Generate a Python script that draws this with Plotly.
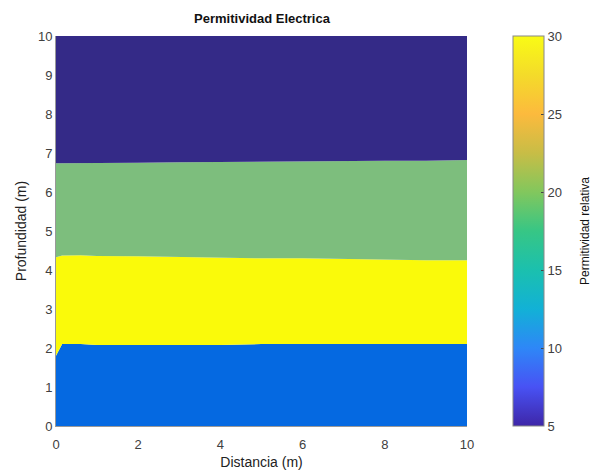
import plotly.graph_objects as go

# ---- data ----
distancia = [0, 0.15, 0.6, 1, 2, 3, 4, 5, 6, 7, 8, 9, 10]
# interface depths (m)
iface_azul_amarillo = [1.8, 2.1, 2.1, 2.08, 2.08, 2.08, 2.08, 2.1, 2.1, 2.1, 2.1, 2.1, 2.1]
iface_amarillo_verde = [4.33, 4.37, 4.38, 4.36, 4.35, 4.33, 4.32, 4.30, 4.30, 4.28, 4.27, 4.25, 4.25]
iface_verde_oscuro = [6.74, 6.74, 6.75, 6.75, 6.75, 6.76, 6.77, 6.78, 6.78, 6.79, 6.80, 6.80, 6.82]
prof_min = 0
prof_max = 10
cb_min, cb_max = 5, 30
cb_ticks = [5, 10, 15, 20, 25, 30]

parula = [
    [0.0, "rgb(62,38,168)"], [0.1, "rgb(72,82,244)"], [0.2, "rgb(46,135,247)"],
    [0.3, "rgb(18,177,214)"], [0.4, "rgb(27,192,174)"], [0.5, "rgb(55,198,133)"],
    [0.6, "rgb(130,199,93)"], [0.7, "rgb(200,189,70)"], [0.8, "rgb(252,186,61)"],
    [0.9, "rgb(244,219,42)"], [1.0, "rgb(249,251,21)"],
]

fig = go.Figure()
base = [prof_min] * len(distancia)
top = [prof_max] * len(distancia)
layers = [
    (base, iface_azul_amarillo, "rgb(5,105,225)"),
    (iface_azul_amarillo, iface_amarillo_verde, "rgb(250,250,10)"),
    (iface_amarillo_verde, iface_verde_oscuro, "rgb(125,190,125)"),
    (iface_verde_oscuro, top, "rgb(52,42,135)"),
]
for lo, hi, col in layers:
    fig.add_trace(go.Scatter(x=distancia, y=lo, mode="lines", line=dict(width=0),
                             showlegend=False, hoverinfo="skip"))
    fig.add_trace(go.Scatter(x=distancia, y=hi, mode="lines", line=dict(width=0, color=col),
                             fill="tonexty", fillcolor=col, showlegend=False, hoverinfo="skip"))

# colorbar trace
fig.add_trace(go.Scatter(
    x=[None, None], y=[None, None], mode="markers", showlegend=False,
    marker=dict(color=[cb_min, cb_max], cmin=cb_min, cmax=cb_max, colorscale=parula,
                showscale=True,
                colorbar=dict(x=1.112, xanchor="left", xref="paper", y=0.5, yanchor="middle",
                              len=1.0, lenmode="fraction", thickness=31, thicknessmode="pixels",
                              ypad=0, xpad=0,
                              outlinecolor="#888", outlinewidth=1,
                              tickvals=cb_ticks, ticks="inside", ticklen=3, tickcolor="#444",
                              tickfont=dict(family="Liberation Sans, Arial", size=13, color="#404040"))),
))

W, H = 592, 471
pl, pw = 56, 411
fig.add_annotation(text="Permitividad relativa", textangle=-90, showarrow=False,
                   xref="paper", yref="paper", x=(585 - pl) / pw, y=0.5,
                   xanchor="center", yanchor="middle",
                   font=dict(family="Liberation Sans, Arial", size=12, color="#111"))

font = dict(family="Liberation Sans, Arial", size=13, color="#404040")
fig.update_layout(
    width=W, height=H,
    margin=dict(l=pl, r=W - pl - pw, t=36, b=45, autoexpand=False),
    paper_bgcolor="white", plot_bgcolor="white",
    title=dict(text="<b>Permitividad Electrica</b>", x=262 / W, xanchor="center",
               y=1 - 18 / H, yanchor="middle",
               font=dict(family="Liberation Sans, Arial", size=13, color="#111")),
    xaxis=dict(range=[0, 10], tickvals=[0, 2, 4, 6, 8, 10], showgrid=False, zeroline=False,
               automargin=False, ticklabelstandoff=6,
               showline=True, linecolor="#999", linewidth=1, ticks="", tickfont=font,
               title=dict(text="Distancia (m)", standoff=6,
                          font=dict(family="Liberation Sans, Arial", size=14, color="#222"))),
    yaxis=dict(range=[0, 10], tickvals=list(range(0, 11)), showgrid=False, zeroline=False,
               automargin=False,
               showline=True, linecolor="#999", linewidth=1, ticks="", tickfont=font,
               title=dict(text="Profundidad (m)", standoff=8,
                          font=dict(family="Liberation Sans, Arial", size=14, color="#222"))),
)
fig.write_html("out.html", config={"displayModeBar": False},
               post_script="document.body.style.margin='0';document.body.style.overflow='hidden';")
